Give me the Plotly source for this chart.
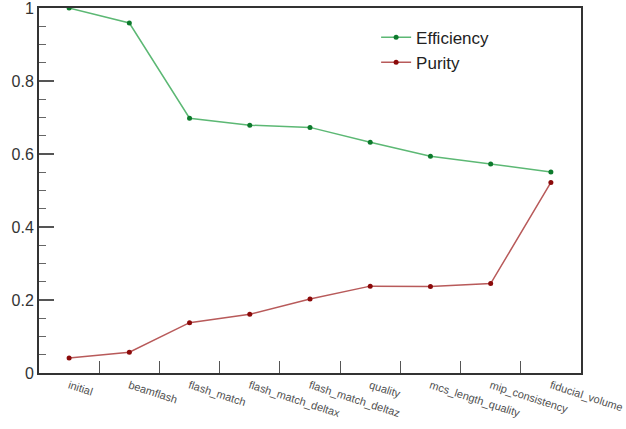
import plotly.graph_objects as go

# Selection stages (histogram bin labels)
stages = [
    "initial", "beamflash", "flash_match", "flash_match_deltax",
    "flash_match_deltaz", "quality", "mcs_length_quality",
    "mip_consistency", "fiducial_volume",
]

# Cumulative efficiency and purity after each selection stage
efficiency = [1.0, 0.959, 0.698, 0.679, 0.673, 0.632, 0.594, 0.573, 0.551]
purity = [0.041, 0.057, 0.138, 0.161, 0.203, 0.238, 0.237, 0.245, 0.522]

# y-axis labels
y_ticks = [0, 0.2, 0.4, 0.6, 0.8, 1]
y_labels = ["0", "0.2", "0.4", "0.6", "0.8", "1"]

fig = go.Figure()

fig.add_trace(go.Scatter(
    x=stages, y=efficiency, name="Efficiency",
    mode="lines+markers",
    line=dict(color="#5cb874", width=1.5),
    marker=dict(color="#0d7a2c", size=5),
))
fig.add_trace(go.Scatter(
    x=stages, y=purity, name="Purity",
    mode="lines+markers",
    line=dict(color="#b85a5a", width=1.5),
    marker=dict(color="#8b0a0a", size=5),
))

axis_line = dict(showline=True, linecolor="#333333", linewidth=2, mirror=True,
                 showgrid=False, zeroline=False, automargin=False)

fig.update_xaxes(
    **axis_line,
    type="category",
    range=[-0.5, len(stages) - 0.5],
    tickson="boundaries",
    ticks="inside", ticklen=12, tickwidth=1, tickcolor="#555555",
    tickangle=18,
    tickfont=dict(family="Liberation Sans, Arial, sans-serif", size=11, color="#505050"),
)
fig.update_yaxes(
    **axis_line,
    range=[0, 1.0001],
    tickmode="array", tickvals=y_ticks, ticktext=y_labels,
    ticklabeloverflow="allow",
    ticks="inside", ticklen=15, tickwidth=1.5, tickcolor="#555555",
    minor=dict(dtick=0.05, ticks="inside", ticklen=7, tickwidth=1, tickcolor="#666666"),
    tickfont=dict(family="Liberation Sans, Arial, sans-serif", size=16, color="#333333"),
)

fig.update_layout(
    width=626, height=429,
    margin=dict(l=39, r=45, t=8, b=56),
    paper_bgcolor="white", plot_bgcolor="white",
    showlegend=True,
    legend=dict(
        x=0.622, y=0.968, xanchor="left", yanchor="top",
        bgcolor="rgba(0,0,0,0)",
        font=dict(family="Liberation Sans, Arial, sans-serif", size=17, color="#222222"),
        tracegroupgap=0, itemwidth=30,
    ),
)

fig.write_html("out.html")
